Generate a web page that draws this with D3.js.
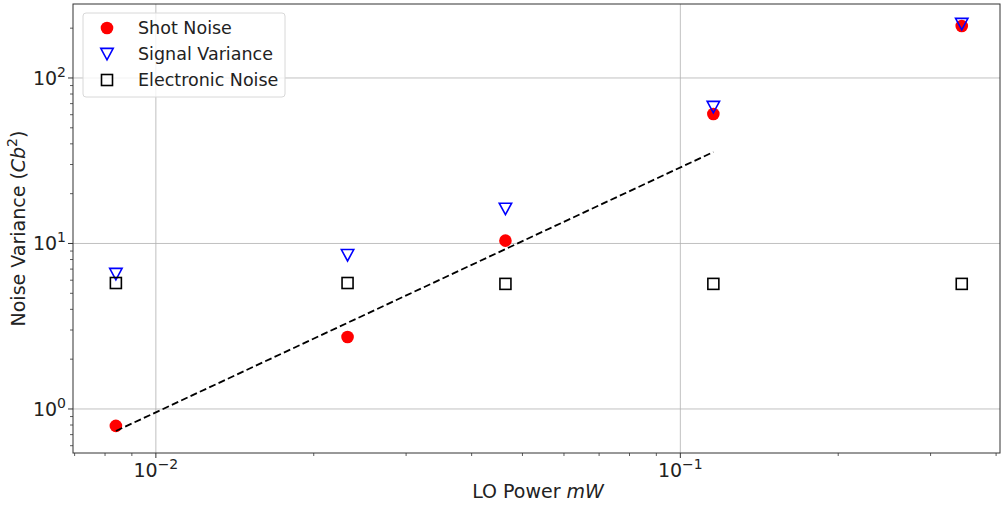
<!DOCTYPE html>
<html>
<head>
<meta charset="utf-8">
<script src="https://cdn.jsdelivr.net/npm/d3@7"></script>
<style>
  body { margin: 0; background: #fff; }
  text { font-family: "DejaVu Sans", sans-serif; }
</style>
</head>
<body>
<script>
const width = 1001;
const height = 505;
const margin = {top: 4, right: 1, bottom: 52, left: 73};

// LO power (mW) for each measurement
const loPower = [0.00839, 0.0232, 0.0464, 0.1156, 0.344];
const shotNoise = [0.79, 2.72, 10.4, 60.6, 206];
const signalVariance = [6.54, 8.5, 16.2, 66.8, 212];
const electronicNoise = [5.77, 5.77, 5.7, 5.7, 5.7];
// dashed fit line endpoints
const fitX = [0.00839, 0.1156];
const fitY = [0.736, 35.7];

const xTicks = [1e-2, 1e-1];
const xTickExp = ["\u22122", "\u22121"];
const yTicks = [1, 10, 100];
const yTickExp = ["0", "1", "2"];

let svg = d3.select("body").append("svg")
  .attr("width", width)
  .attr("height", height);

const x = d3.scaleLog()
  .domain([Math.pow(10, -2.158), Math.pow(10, -0.3905)])
  .range([margin.left, width - margin.right]);
const y = d3.scaleLog()
  .domain([Math.pow(10, -0.266), Math.pow(10, 2.447)])
  .range([height - margin.bottom, margin.top]);

const x0 = margin.left, x1 = width - margin.right;
const y0 = height - margin.bottom, y1 = margin.top;

// grid
svg.selectAll(".xgrid").data(xTicks).enter().append("line")
  .attr("x1", d => x(d)).attr("x2", d => x(d))
  .attr("y1", y0).attr("y2", y1)
  .attr("stroke", "#b0b0b0").attr("stroke-width", 0.8);
svg.selectAll(".ygrid").data(yTicks).enter().append("line")
  .attr("x1", x0).attr("x2", x1)
  .attr("y1", d => y(d)).attr("y2", d => y(d))
  .attr("stroke", "#b0b0b0").attr("stroke-width", 0.8);

// minor ticks
let xMinor = [];
for (let e = -3; e <= -1; e++) {
  for (let m = 2; m <= 9; m++) {
    let v = m * Math.pow(10, e);
    if (v >= x.domain()[0] && v <= x.domain()[1]) xMinor.push(v);
  }
}
let yMinor = [];
for (let e = -1; e <= 2; e++) {
  for (let m = 2; m <= 9; m++) {
    let v = m * Math.pow(10, e);
    if (v >= y.domain()[0] && v <= y.domain()[1]) yMinor.push(v);
  }
}
svg.selectAll(".xminor").data(xMinor).enter().append("line")
  .attr("x1", d => x(d)).attr("x2", d => x(d))
  .attr("y1", y0).attr("y2", y0 + 3)
  .attr("stroke", "#333").attr("stroke-width", 0.8);
svg.selectAll(".yminor").data(yMinor).enter().append("line")
  .attr("x1", x0).attr("x2", x0 - 3)
  .attr("y1", d => y(d)).attr("y2", d => y(d))
  .attr("stroke", "#333").attr("stroke-width", 0.8);

// major ticks
svg.selectAll(".xmajor").data(xTicks).enter().append("line")
  .attr("x1", d => x(d)).attr("x2", d => x(d))
  .attr("y1", y0).attr("y2", y0 + 5)
  .attr("stroke", "#333").attr("stroke-width", 1);
svg.selectAll(".ymajor").data(yTicks).enter().append("line")
  .attr("x1", x0).attr("x2", x0 - 5)
  .attr("y1", d => y(d)).attr("y2", d => y(d))
  .attr("stroke", "#333").attr("stroke-width", 1);

// tick labels
let xl = svg.selectAll(".xlab").data(xTicks).enter().append("text")
  .attr("x", d => x(d)).attr("y", y0 + 24)
  .attr("text-anchor", "middle")
  .style("font-size", "19px").attr("fill", "#222");
xl.append("tspan").text("10");
xl.append("tspan").attr("dy", -8).style("font-size", "14px").text((d, i) => xTickExp[i]);

let yl = svg.selectAll(".ylab").data(yTicks).enter().append("text")
  .attr("x", x0 - 7).attr("y", d => y(d) + 7)
  .attr("text-anchor", "end")
  .style("font-size", "19px").attr("fill", "#222");
yl.append("tspan").text("10");
yl.append("tspan").attr("dy", -8).style("font-size", "14px").text((d, i) => yTickExp[i]);

// axis labels
let xlabel = svg.append("text")
  .attr("x", 538).attr("y", 498)
  .attr("text-anchor", "middle")
  .style("font-size", "19px").attr("fill", "#222");
xlabel.append("tspan").text("LO Power ");
xlabel.append("tspan").style("font-style", "italic").text("mW");

let ylabel = svg.append("text")
  .attr("transform", "translate(25," + ((y0 + y1) / 2) + ") rotate(-90)")
  .attr("text-anchor", "middle")
  .style("font-size", "19px").attr("fill", "#222");
ylabel.append("tspan").text("Noise Variance (");
ylabel.append("tspan").style("font-style", "italic").text("Cb");
ylabel.append("tspan").attr("dy", -8).style("font-size", "14px").text("2");
ylabel.append("tspan").attr("dy", 8).text(")");

// markers
function drawShot(g, cx, cy) {
  g.append("circle").attr("cx", cx).attr("cy", cy).attr("r", 6.3).attr("fill", "red");
}
function drawTri(g, cx, cy) {
  g.append("path")
    .attr("d", "M" + (cx - 6.2) + "," + (cy - 5.6) + "L" + (cx + 6.2) + "," + (cy - 5.6) + "L" + cx + "," + (cy + 5.8) + "Z")
    .attr("fill", "none").attr("stroke", "blue").attr("stroke-width", 1.6);
}
function drawSq(g, cx, cy) {
  g.append("rect").attr("x", cx - 5.5).attr("y", cy - 5.5)
    .attr("width", 11).attr("height", 11)
    .attr("fill", "none").attr("stroke", "black").attr("stroke-width", 1.6);
}

let marks = svg.append("g");
loPower.forEach((p, i) => drawShot(marks, x(p), y(shotNoise[i])));
loPower.forEach((p, i) => drawTri(marks, x(p), y(signalVariance[i])));
loPower.forEach((p, i) => drawSq(marks, x(p), y(electronicNoise[i])));

// fit line
const fit = fitX.map((v, i) => [v, fitY[i]]);
svg.append("path")
  .attr("d", d3.line().x(d => x(d[0])).y(d => y(d[1]))(fit))
  .attr("fill", "none").attr("stroke", "black").attr("stroke-width", 1.8)
  .attr("stroke-dasharray", "7,3.3");

// spines
svg.append("rect")
  .attr("x", x0).attr("y", y1)
  .attr("width", x1 - x0).attr("height", y0 - y1)
  .attr("fill", "none").attr("stroke", "#333").attr("stroke-width", 1);

// legend
const legendNames = ["Shot Noise", "Signal Variance", "Electronic Noise"];
let legend = svg.append("g");
legend.append("rect")
  .attr("x", 83).attr("y", 13).attr("width", 202).attr("height", 84)
  .attr("rx", 3).attr("fill", "white").attr("fill-opacity", 0.8)
  .attr("stroke", "#d8d8d8").attr("stroke-width", 1);
drawShot(legend, 107, 28);
drawTri(legend, 107, 54);
drawSq(legend, 107, 80);
legend.selectAll("text").data(legendNames).enter().append("text")
  .attr("x", 138).attr("y", (d, i) => 28 + i * 26 + 6)
  .style("font-size", "17.5px").attr("fill", "#222")
  .text(d => d);
</script>
</body>
</html>
